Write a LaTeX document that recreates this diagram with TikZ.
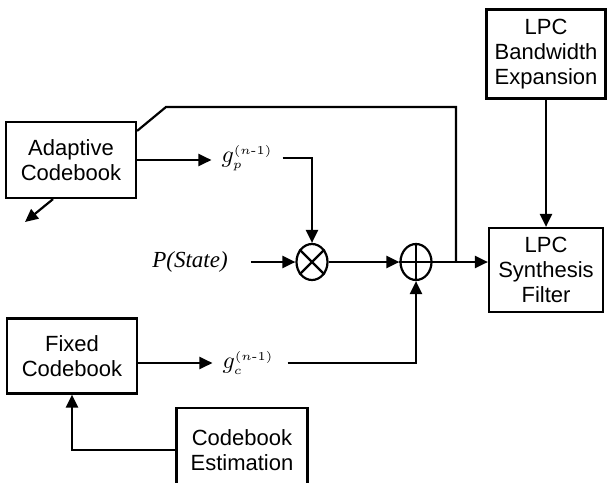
\documentclass[tikz,border=0pt]{standalone}
\usepackage{fontspec}
\setsansfont{Liberation Sans}
\newfontfamily\serifit{Liberation Serif}
\usetikzlibrary{arrows.meta}
\usetikzlibrary{shapes.geometric}
\usepackage{amsmath}
\newcommand{\gainlbl}[1]{\scalebox{2.4}{$g_{\scriptscriptstyle #1}^{\scriptscriptstyle (n\text{-}1)}$}}

\begin{document}
\begin{tikzpicture}[x=1pt, y=-1pt, line width=2.2pt, >={Triangle[length=13pt,width=12pt]},
 blok/.style={draw, rectangle, align=center, inner sep=0pt, font=\sffamily\fontsize{22}{25}\selectfont},
 junc/.style={draw, ellipse, minimum width=31pt, minimum height=36pt, inner sep=0pt},
 gain/.style={inner xsep=5pt, inner ysep=0pt}]
\clip (0,0) rectangle (607,482);
% blocks
\node[blok, minimum width=130, minimum height=76] (adapt) at (71,160) {Adaptive\\Codebook};
\node[blok, minimum width=130, minimum height=75] (fixed) at (72,356) {Fixed\\Codebook};
\node[blok, minimum width=131, minimum height=84] (est) at (242,450) {Codebook\\Estimation};
\node[blok, minimum width=119, minimum height=89] (bwexp) at (546,54) {LPC\\Bandwidth\\Expansion};
\node[blok, minimum width=114, minimum height=84] (synth) at (546,270) {LPC\\Synthesis\\Filter};
% gains and junctions
\node[gain] (gp) at (247,158) {\gainlbl{p}};
\node[gain] (gc) at (248,363) {\gainlbl{c}};
\node[inner sep=0pt, font=\serifit\itshape\fontsize{23}{25}\selectfont] (pst) at (190,262) {P(State)};
\node[junc] (mult) at (312,262) {};
\node[junc] (add) at (416,262) {};
\draw (mult.45) -- (mult.225) (mult.135) -- (mult.315);
\draw (add.north) -- (add.south) (add.west) -- (add.east);
\coordinate (bend) at (166,107);
\coordinate (tap) at (456,262);
\coordinate (fb) at (25,222);
% connectors
\draw[->] (adapt.east) -- ([xshift=-4]adapt.east -| gp.west);
\draw[->] (fixed.east |- gc.west) -- ([xshift=-4]gc.west);
\draw[->] ([xshift=4]gp.east) -| (mult.north);
\draw[->] ([xshift=8]gc.east) -| (add.south);
\draw[->] ([xshift=22]pst.east) -- (mult.west);
\draw[->] (mult.east) -- (add.west);
\draw[->] (add.east) -- (add.east -| synth.west);
\draw[->] (bwexp) -- (synth);
\draw[->] (est.west) -| (fixed.south);
\draw[->] ([xshift=-18]adapt.south) -- (fb);
\draw ([yshift=-10]adapt.north east) -- (bend) -- (bend -| tap) -- (tap);
\end{tikzpicture}
\end{document}
